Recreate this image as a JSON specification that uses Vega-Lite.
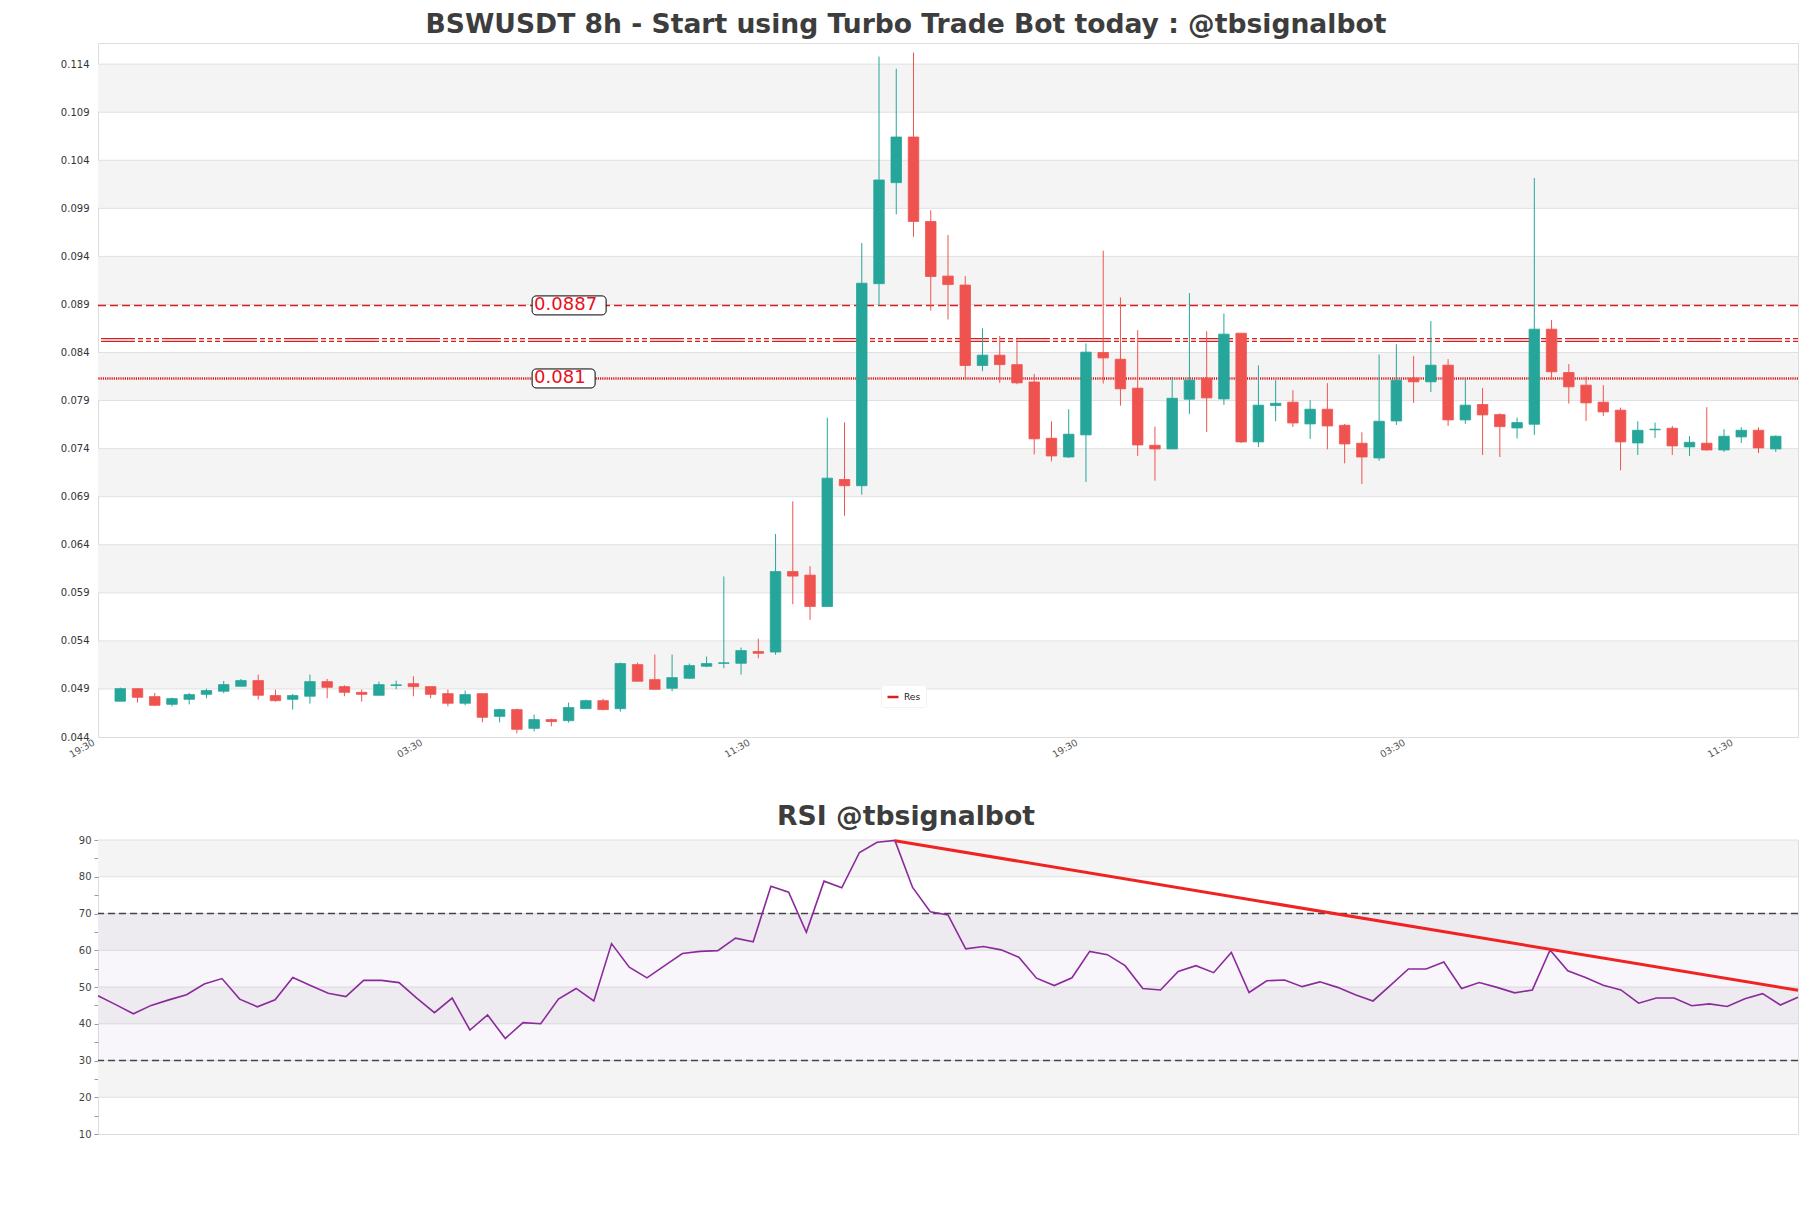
{
  "$schema": "https://vega.github.io/schema/vega-lite/v6.json",
  "background": "white",
  "padding": {"left": 59, "top": 11, "right": 14, "bottom": 10},
  "config": {
    "font": "DejaVu Sans",
    "view": {"stroke": "#dddddd", "strokeWidth": 1},
    "axis": {"labelOverlap": false}
  },
  "datasets": {
    "candles": [
      {"i":0,"o":0.04772,"h":0.04914,"l":0.04772,"c":0.04903},
      {"i":1,"o":0.04903,"h":0.04903,"l":0.04758,"c":0.04813},
      {"i":2,"o":0.0482,"h":0.04858,"l":0.04723,"c":0.0473},
      {"i":3,"o":0.0474,"h":0.0481,"l":0.04719,"c":0.04799},
      {"i":4,"o":0.04792,"h":0.04858,"l":0.0474,"c":0.04841},
      {"i":5,"o":0.04844,"h":0.04903,"l":0.04803,"c":0.04883},
      {"i":6,"o":0.04876,"h":0.04983,"l":0.04855,"c":0.04945},
      {"i":7,"o":0.04928,"h":0.05004,"l":0.04928,"c":0.04987},
      {"i":8,"o":0.04987,"h":0.05049,"l":0.04789,"c":0.04834},
      {"i":9,"o":0.04831,"h":0.04893,"l":0.04768,"c":0.04778},
      {"i":10,"o":0.04792,"h":0.04848,"l":0.04685,"c":0.04831},
      {"i":11,"o":0.04824,"h":0.05049,"l":0.04747,"c":0.04976},
      {"i":12,"o":0.04976,"h":0.05004,"l":0.04803,"c":0.04917},
      {"i":13,"o":0.04924,"h":0.04938,"l":0.04824,"c":0.04865},
      {"i":14,"o":0.04865,"h":0.04893,"l":0.04768,"c":0.04844},
      {"i":15,"o":0.04834,"h":0.04976,"l":0.04834,"c":0.04945},
      {"i":16,"o":0.04936,"h":0.04987,"l":0.04896,"c":0.04943},
      {"i":17,"o":0.04955,"h":0.05032,"l":0.04824,"c":0.04924},
      {"i":18,"o":0.04924,"h":0.04924,"l":0.04803,"c":0.04844},
      {"i":19,"o":0.04851,"h":0.04893,"l":0.04719,"c":0.04751},
      {"i":20,"o":0.04751,"h":0.04883,"l":0.0473,"c":0.04841},
      {"i":21,"o":0.04851,"h":0.04851,"l":0.04553,"c":0.04605},
      {"i":22,"o":0.04615,"h":0.04695,"l":0.04553,"c":0.04685},
      {"i":23,"o":0.04685,"h":0.04695,"l":0.04438,"c":0.0448},
      {"i":24,"o":0.0449,"h":0.04633,"l":0.04459,"c":0.04581},
      {"i":25,"o":0.04581,"h":0.04591,"l":0.04511,"c":0.0456},
      {"i":26,"o":0.0457,"h":0.04758,"l":0.04549,"c":0.04706},
      {"i":27,"o":0.04695,"h":0.04789,"l":0.04695,"c":0.04778},
      {"i":28,"o":0.04778,"h":0.04799,"l":0.04678,"c":0.04685},
      {"i":29,"o":0.04695,"h":0.05174,"l":0.04664,"c":0.05164},
      {"i":30,"o":0.05153,"h":0.05174,"l":0.0498,"c":0.0498},
      {"i":31,"o":0.04997,"h":0.05258,"l":0.04896,"c":0.04896},
      {"i":32,"o":0.04907,"h":0.05258,"l":0.04876,"c":0.05018},
      {"i":33,"o":0.05011,"h":0.05164,"l":0.05004,"c":0.05143},
      {"i":34,"o":0.05136,"h":0.05237,"l":0.05126,"c":0.05164},
      {"i":35,"o":0.05166,"h":0.0607,"l":0.05115,"c":0.05172},
      {"i":36,"o":0.05167,"h":0.0533,"l":0.05049,"c":0.05299},
      {"i":37,"o":0.05289,"h":0.05424,"l":0.05219,"c":0.05271},
      {"i":38,"o":0.05284,"h":0.06512,"l":0.05256,"c":0.06121},
      {"i":39,"o":0.06121,"h":0.06851,"l":0.05781,"c":0.06074},
      {"i":40,"o":0.06084,"h":0.06177,"l":0.05619,"c":0.05758},
      {"i":41,"o":0.05758,"h":0.07721,"l":0.05758,"c":0.07093},
      {"i":42,"o":0.07079,"h":0.07674,"l":0.06702,"c":0.07014},
      {"i":43,"o":0.07014,"h":0.09539,"l":0.06921,"c":0.09121},
      {"i":44,"o":0.09116,"h":0.11479,"l":0.08884,"c":0.10195},
      {"i":45,"o":0.10167,"h":0.11353,"l":0.09837,"c":0.10642},
      {"i":46,"o":0.10642,"h":0.11521,"l":0.09604,"c":0.09763},
      {"i":47,"o":0.09763,"h":0.09879,"l":0.08837,"c":0.09191},
      {"i":48,"o":0.09195,"h":0.09623,"l":0.08744,"c":0.09107},
      {"i":49,"o":0.09102,"h":0.09195,"l":0.0813,"c":0.08265},
      {"i":50,"o":0.08265,"h":0.08651,"l":0.08205,"c":0.08372},
      {"i":51,"o":0.08372,"h":0.08572,"l":0.08084,"c":0.08274},
      {"i":52,"o":0.08274,"h":0.08539,"l":0.0807,"c":0.08084},
      {"i":53,"o":0.08093,"h":0.08177,"l":0.0734,"c":0.07502},
      {"i":54,"o":0.07508,"h":0.07685,"l":0.07268,"c":0.07324},
      {"i":55,"o":0.07313,"h":0.0781,"l":0.07303,"c":0.0755},
      {"i":56,"o":0.07543,"h":0.08494,"l":0.07053,"c":0.08404},
      {"i":57,"o":0.084,"h":0.09459,"l":0.08077,"c":0.08344},
      {"i":58,"o":0.0833,"h":0.08973,"l":0.07848,"c":0.08022},
      {"i":59,"o":0.08029,"h":0.08633,"l":0.07324,"c":0.07438},
      {"i":60,"o":0.07435,"h":0.07629,"l":0.07067,"c":0.07397},
      {"i":61,"o":0.07397,"h":0.08147,"l":0.07397,"c":0.07924},
      {"i":62,"o":0.07914,"h":0.09018,"l":0.07761,"c":0.08112},
      {"i":63,"o":0.08133,"h":0.08622,"l":0.07574,"c":0.07928},
      {"i":64,"o":0.07917,"h":0.08806,"l":0.07855,"c":0.08591},
      {"i":65,"o":0.08601,"h":0.08601,"l":0.07459,"c":0.0747},
      {"i":66,"o":0.0747,"h":0.08265,"l":0.07417,"c":0.07852},
      {"i":67,"o":0.07848,"h":0.08112,"l":0.07685,"c":0.07872},
      {"i":68,"o":0.07883,"h":0.08008,"l":0.07626,"c":0.07667},
      {"i":69,"o":0.07657,"h":0.07904,"l":0.07501,"c":0.0781},
      {"i":70,"o":0.0781,"h":0.08081,"l":0.07393,"c":0.07636},
      {"i":71,"o":0.07643,"h":0.07657,"l":0.07247,"c":0.07449},
      {"i":72,"o":0.07456,"h":0.0757,"l":0.07032,"c":0.07313},
      {"i":73,"o":0.07303,"h":0.08379,"l":0.07275,"c":0.07685},
      {"i":74,"o":0.07688,"h":0.08487,"l":0.07647,"c":0.08112},
      {"i":75,"o":0.08133,"h":0.08362,"l":0.07876,"c":0.08095},
      {"i":76,"o":0.08095,"h":0.08726,"l":0.0799,"c":0.08268},
      {"i":77,"o":0.08268,"h":0.08331,"l":0.07636,"c":0.07699},
      {"i":78,"o":0.07699,"h":0.08122,"l":0.07657,"c":0.07852},
      {"i":79,"o":0.07859,"h":0.08029,"l":0.07334,"c":0.07751},
      {"i":80,"o":0.07754,"h":0.07768,"l":0.07313,"c":0.07629},
      {"i":81,"o":0.07615,"h":0.07723,"l":0.07504,"c":0.07671},
      {"i":82,"o":0.07654,"h":0.10216,"l":0.07543,"c":0.08643},
      {"i":83,"o":0.08643,"h":0.08737,"l":0.08115,"c":0.08199},
      {"i":84,"o":0.08192,"h":0.08279,"l":0.07869,"c":0.08043},
      {"i":85,"o":0.0806,"h":0.0815,"l":0.07688,"c":0.07876},
      {"i":86,"o":0.07883,"h":0.0806,"l":0.0774,"c":0.07782},
      {"i":87,"o":0.078,"h":0.07827,"l":0.07174,"c":0.0747},
      {"i":88,"o":0.07459,"h":0.07685,"l":0.07334,"c":0.07591},
      {"i":89,"o":0.07596,"h":0.07671,"l":0.07511,"c":0.07602},
      {"i":90,"o":0.07612,"h":0.07636,"l":0.07334,"c":0.07428},
      {"i":91,"o":0.07418,"h":0.07529,"l":0.07324,"c":0.07466},
      {"i":92,"o":0.07456,"h":0.07831,"l":0.0738,"c":0.07386},
      {"i":93,"o":0.07386,"h":0.07602,"l":0.07366,"c":0.07529},
      {"i":94,"o":0.07522,"h":0.07622,"l":0.07459,"c":0.07591},
      {"i":95,"o":0.07591,"h":0.07622,"l":0.07355,"c":0.07407},
      {"i":96,"o":0.07397,"h":0.07539,"l":0.07366,"c":0.07529}
    ],
    "bands": [
      {"lo":0.049,"hi":0.054},{"lo":0.059,"hi":0.064},{"lo":0.069,"hi":0.074},
      {"lo":0.079,"hi":0.084},{"lo":0.089,"hi":0.094},{"lo":0.099,"hi":0.104},
      {"lo":0.109,"hi":0.114}
    ],
    "rsi": [
      {"j":0,"rsi":47.6},{"j":1,"rsi":45.2},{"j":2,"rsi":42.7},{"j":3,"rsi":45.0},{"j":4,"rsi":46.5},
      {"j":5,"rsi":47.9},{"j":6,"rsi":50.8},{"j":7,"rsi":52.3},{"j":8,"rsi":46.7},{"j":9,"rsi":44.6},
      {"j":10,"rsi":46.5},{"j":11,"rsi":52.6},{"j":12,"rsi":50.4},{"j":13,"rsi":48.3},{"j":14,"rsi":47.4},
      {"j":15,"rsi":51.8},{"j":16,"rsi":51.8},{"j":17,"rsi":51.2},{"j":18,"rsi":47.0},{"j":19,"rsi":43.0},
      {"j":20,"rsi":47.0},{"j":21,"rsi":38.3},{"j":22,"rsi":42.4},{"j":23,"rsi":36.0},{"j":24,"rsi":40.3},
      {"j":25,"rsi":40.0},{"j":26,"rsi":46.7},{"j":27,"rsi":49.6},{"j":28,"rsi":46.2},{"j":29,"rsi":61.8},
      {"j":30,"rsi":55.4},{"j":31,"rsi":52.5},{"j":32,"rsi":55.8},{"j":33,"rsi":59.1},{"j":34,"rsi":59.7},
      {"j":35,"rsi":59.9},{"j":36,"rsi":63.3},{"j":37,"rsi":62.3},{"j":38,"rsi":77.4},{"j":39,"rsi":75.8},
      {"j":40,"rsi":64.9},{"j":41,"rsi":78.8},{"j":42,"rsi":77.0},{"j":43,"rsi":86.6},{"j":44,"rsi":89.4},
      {"j":45,"rsi":89.9},{"j":46,"rsi":77.1},{"j":47,"rsi":70.5},{"j":48,"rsi":69.6},{"j":49,"rsi":60.4},
      {"j":50,"rsi":61.0},{"j":51,"rsi":60.1},{"j":52,"rsi":58.1},{"j":53,"rsi":52.4},{"j":54,"rsi":50.4},
      {"j":55,"rsi":52.5},{"j":56,"rsi":59.7},{"j":57,"rsi":58.8},{"j":58,"rsi":55.8},{"j":59,"rsi":49.6},
      {"j":60,"rsi":49.2},{"j":61,"rsi":54.2},{"j":62,"rsi":55.8},{"j":63,"rsi":53.9},{"j":64,"rsi":59.4},
      {"j":65,"rsi":48.5},{"j":66,"rsi":51.7},{"j":67,"rsi":51.9},{"j":68,"rsi":50.1},{"j":69,"rsi":51.4},
      {"j":70,"rsi":49.9},{"j":71,"rsi":47.9},{"j":72,"rsi":46.2},{"j":73,"rsi":50.5},{"j":74,"rsi":54.9},
      {"j":75,"rsi":54.9},{"j":76,"rsi":56.8},{"j":77,"rsi":49.6},{"j":78,"rsi":51.2},{"j":79,"rsi":49.9},
      {"j":80,"rsi":48.4},{"j":81,"rsi":49.2},{"j":82,"rsi":60.1},{"j":83,"rsi":54.4},{"j":84,"rsi":52.6},
      {"j":85,"rsi":50.5},{"j":86,"rsi":49.2},{"j":87,"rsi":45.6},{"j":88,"rsi":47.0},{"j":89,"rsi":47.0},
      {"j":90,"rsi":44.9},{"j":91,"rsi":45.4},{"j":92,"rsi":44.7},{"j":93,"rsi":46.8},{"j":94,"rsi":48.2},
      {"j":95,"rsi":45.1},{"j":96,"rsi":47.2}
    ],
    "rsiBands": [{"lo":20,"hi":30},{"lo":40,"hi":50},{"lo":60,"hi":70},{"lo":80,"hi":90}],
    "trend": [{"j":45,"rsi":89.8},{"j":96,"rsi":49.1}]
  },
  "bounds": "flush",
  "spacing": 103,
  "vconcat": [
    {
      "width": 1700,
      "height": 694,
      "title": {"text": "BSWUSDT 8h - Start using Turbo Trade Bot today : @tbsignalbot", "font": "DejaVu Sans", "fontSize": 26.6, "fontWeight": "bold", "color": "#3d3d3d", "anchor": "middle", "frame": "group", "baseline": "alphabetic", "offset": -17, "dx": -42},
      "layer": [
        {
          "data": {"name": "bands"},
          "mark": {"type": "rect", "fill": "#f4f4f4"},
          "encoding": {
            "y": {"field": "lo", "type": "quantitative",
              "scale": {"domain": [0.044, 0.1162], "nice": false, "zero": false},
              "axis": {"values": [0.044,0.049,0.054,0.059,0.064,0.069,0.074,0.079,0.084,0.089,0.094,0.099,0.104,0.109,0.114], "format": ".3f", "labelFont": "DejaVu Sans", "labelFontSize": 10, "labelColor": "#333333", "labelOverlap": false, "ticks": false, "tickSize": 0, "labelPadding": 9, "title": null, "grid": false, "domain": false}},
            "y2": {"field": "hi"}
          }
        },
        {"data": {"name": "bands"}, "mark": {"type": "rule", "stroke": "#e0e0e0", "strokeWidth": 1}, "encoding": {"y": {"field": "lo", "type": "quantitative"}}},
        {"data": {"name": "bands"}, "mark": {"type": "rule", "stroke": "#e0e0e0", "strokeWidth": 1}, "encoding": {"y": {"field": "hi", "type": "quantitative"}}},
        {
          "data": {"values": [{"price": 0.0889, "name": "Res"}]},
          "mark": {"type": "rule", "strokeDash": [8, 4], "strokeWidth": 1.5},
          "encoding": {
            "y": {"field": "price", "type": "quantitative"},
            "stroke": {"field": "name", "type": "nominal", "scale": {"domain": ["Res"], "range": ["#d81e1e"]},
              "legend": {"orient": "none", "legendX": 783, "legendY": 642, "title": null, "fillColor": "white", "padding": 5, "symbolType": "stroke", "symbolStrokeWidth": 2.5, "symbolSize": 120, "symbolDash": [], "symbolStrokeColor": "#d81e1e", "labelFont": "DejaVu Sans", "labelFontSize": 9, "labelColor": "#222222", "cornerRadius": 3, "strokeColor": "#f2f2f2"}}
          }
        },
        {
          "data": {"values": [{"price": 0.0853}]},
          "mark": {"type": "rule", "stroke": "#d81e1e", "strokeWidth": 4, "strokeDash": [5, 3, 5, 3, 34, 3, 5, 3]},
          "encoding": {"y": {"field": "price", "type": "quantitative"}}
        },
        {
          "data": {"values": [{"price": 0.0853}]},
          "mark": {"type": "rule", "stroke": "white", "strokeWidth": 1.6, "strokeDash": [5, 3, 5, 3, 34, 3, 5, 3]},
          "encoding": {"y": {"field": "price", "type": "quantitative"}}
        },
        {
          "data": {"values": [{"price": 0.0813}]},
          "mark": {"type": "rule", "stroke": "#d81e1e", "strokeWidth": 2.5, "strokeDash": [1.2, 1]},
          "encoding": {"y": {"field": "price", "type": "quantitative"}}
        },
        {
          "data": {"name": "candles"},
          "mark": {"type": "rule", "strokeWidth": 1},
          "encoding": {
            "x": {"field": "i", "type": "quantitative",
              "scale": {"domain": [-1, 97], "nice": false, "zero": false},
              "axis": {"values": [-1, 18, 37, 56, 75, 94], "labelExpr": "datum.value == -1 || datum.value == 56 ? '19:30' : (datum.value == 18 || datum.value == 75 ? '03:30' : '11:30')", "labelAngle": -30, "labelAlign": "right", "labelBaseline": "top", "labelFlush": false, "labelOverlap": false, "labelBound": false, "labelOffset": -12, "labelFont": "DejaVu Sans", "labelFontSize": 9.5, "labelColor": "#555555", "ticks": false, "tickSize": 0, "labelPadding": 0, "title": null, "grid": false, "domain": false}},
            "y": {"field": "l", "type": "quantitative"},
            "y2": {"field": "h"},
            "stroke": {"condition": {"test": "datum.c >= datum.o", "value": "#26a69a"}, "value": "#ef5350"}
          }
        },
        {
          "data": {"name": "candles"},
          "mark": {"type": "bar", "width": 10.5, "strokeWidth": 0.8},
          "encoding": {
            "x": {"field": "i", "type": "quantitative"},
            "y": {"field": "o", "type": "quantitative"},
            "y2": {"field": "c"},
            "fill": {"condition": {"test": "datum.c >= datum.o", "value": "#26a69a"}, "value": "#ef5350"},
            "stroke": {"condition": {"test": "datum.c >= datum.o", "value": "#26a69a"}, "value": "#ef5350"}
          }
        },
        {
          "data": {"values": [{"price": 0.0889}]},
          "mark": {"type": "rect", "width": 74, "height": 19, "cornerRadius": 4, "fill": "white", "stroke": "black", "strokeWidth": 1, "xOffset": 35},
          "encoding": {"x": {"datum": 24, "type": "quantitative"}, "y": {"field": "price", "type": "quantitative"}}
        },
        {
          "data": {"values": [{"price": 0.0813}]},
          "mark": {"type": "rect", "width": 63, "height": 19, "cornerRadius": 4, "fill": "white", "stroke": "black", "strokeWidth": 1, "xOffset": 29.5},
          "encoding": {"x": {"datum": 24, "type": "quantitative"}, "y": {"field": "price", "type": "quantitative"}}
        },
        {
          "data": {"values": [{"price": 0.0889, "label": "0.0887"}, {"price": 0.0813, "label": "0.081"}]},
          "mark": {"type": "text", "align": "left", "baseline": "middle", "font": "DejaVu Sans", "fontSize": 18, "color": "#e8101a"},
          "encoding": {"x": {"datum": 24, "type": "quantitative"}, "y": {"field": "price", "type": "quantitative"}, "text": {"field": "label"}}
        }
      ]
    },
    {
      "width": 1700,
      "height": 294,
      "title": {"text": "RSI @tbsignalbot", "font": "DejaVu Sans", "fontSize": 26.7, "fontWeight": "bold", "color": "#3d3d3d", "anchor": "middle", "frame": "group", "baseline": "alphabetic", "offset": -17, "dx": -42},
      "layer": [
        {
          "data": {"name": "rsiBands"},
          "mark": {"type": "rect", "fill": "#f4f4f4"},
          "encoding": {
            "y": {"field": "lo", "type": "quantitative",
              "scale": {"domain": [10, 90], "nice": false, "zero": false},
              "axis": {"values": [10,15,20,25,30,35,40,45,50,55,60,65,70,75,80,85,90], "labelExpr": "datum.value % 10 == 0 ? datum.label : ''", "labelOverlap": false, "labelFont": "DejaVu Sans", "labelFontSize": 10, "labelColor": "#444444", "ticks": true, "tickSize": 4, "tickColor": "#999999", "labelPadding": 3, "title": null, "grid": false, "domain": false}},
            "y2": {"field": "hi"}
          }
        },
        {"data": {"name": "rsiBands"}, "mark": {"type": "rule", "stroke": "#e0e0e0", "strokeWidth": 1}, "encoding": {"y": {"field": "lo", "type": "quantitative", "axis": {"values": [10,15,20,25,30,35,40,45,50,55,60,65,70,75,80,85,90], "labelExpr": "datum.value % 10 == 0 ? datum.label : ''", "labelOverlap": false, "labelFont": "DejaVu Sans", "labelFontSize": 10, "labelColor": "#444444", "ticks": true, "tickSize": 4, "tickColor": "#999999", "labelPadding": 3, "title": null, "grid": false, "domain": false}}}},
        {"data": {"name": "rsiBands"}, "mark": {"type": "rule", "stroke": "#e0e0e0", "strokeWidth": 1}, "encoding": {"y": {"field": "hi", "type": "quantitative", "axis": {"values": [10,15,20,25,30,35,40,45,50,55,60,65,70,75,80,85,90], "labelExpr": "datum.value % 10 == 0 ? datum.label : ''", "labelOverlap": false, "labelFont": "DejaVu Sans", "labelFontSize": 10, "labelColor": "#444444", "ticks": true, "tickSize": 4, "tickColor": "#999999", "labelPadding": 3, "title": null, "grid": false, "domain": false}}}},
        {
          "data": {"values": [{"lo": 30, "hi": 70}]},
          "mark": {"type": "rect", "fill": "#9c7fc0", "opacity": 0.07},
          "encoding": {"y": {"field": "lo", "type": "quantitative", "axis": {"values": [10,15,20,25,30,35,40,45,50,55,60,65,70,75,80,85,90], "labelExpr": "datum.value % 10 == 0 ? datum.label : ''", "labelOverlap": false, "labelFont": "DejaVu Sans", "labelFontSize": 10, "labelColor": "#444444", "ticks": true, "tickSize": 4, "tickColor": "#999999", "labelPadding": 3, "title": null, "grid": false, "domain": false}}, "y2": {"field": "hi"}}
        },
        {
          "data": {"values": [{"v": 30}, {"v": 70}]},
          "mark": {"type": "rule", "stroke": "#444444", "strokeWidth": 1.3, "strokeDash": [7, 4]},
          "encoding": {"y": {"field": "v", "type": "quantitative", "axis": {"values": [10,15,20,25,30,35,40,45,50,55,60,65,70,75,80,85,90], "labelExpr": "datum.value % 10 == 0 ? datum.label : ''", "labelOverlap": false, "labelFont": "DejaVu Sans", "labelFontSize": 10, "labelColor": "#444444", "ticks": true, "tickSize": 4, "tickColor": "#999999", "labelPadding": 3, "title": null, "grid": false, "domain": false}}}
        },
        {
          "data": {"name": "rsi"},
          "mark": {"type": "line", "stroke": "#8b2a9b", "strokeWidth": 1.6},
          "encoding": {
            "x": {"field": "j", "type": "quantitative", "scale": {"domain": [0, 96], "nice": false, "zero": false}, "axis": null},
            "y": {"field": "rsi", "type": "quantitative", "axis": {"values": [10,15,20,25,30,35,40,45,50,55,60,65,70,75,80,85,90], "labelExpr": "datum.value % 10 == 0 ? datum.label : ''", "labelOverlap": false, "labelFont": "DejaVu Sans", "labelFontSize": 10, "labelColor": "#444444", "ticks": true, "tickSize": 4, "tickColor": "#999999", "labelPadding": 3, "title": null, "grid": false, "domain": false}}
          }
        },
        {
          "data": {"name": "trend"},
          "mark": {"type": "line", "stroke": "#f02222", "strokeWidth": 3},
          "encoding": {
            "x": {"field": "j", "type": "quantitative", "axis": null},
            "y": {"field": "rsi", "type": "quantitative", "axis": {"values": [10,15,20,25,30,35,40,45,50,55,60,65,70,75,80,85,90], "labelExpr": "datum.value % 10 == 0 ? datum.label : ''", "labelOverlap": false, "labelFont": "DejaVu Sans", "labelFontSize": 10, "labelColor": "#444444", "ticks": true, "tickSize": 4, "tickColor": "#999999", "labelPadding": 3, "title": null, "grid": false, "domain": false}}
          }
        }
      ]
    }
  ]
}
